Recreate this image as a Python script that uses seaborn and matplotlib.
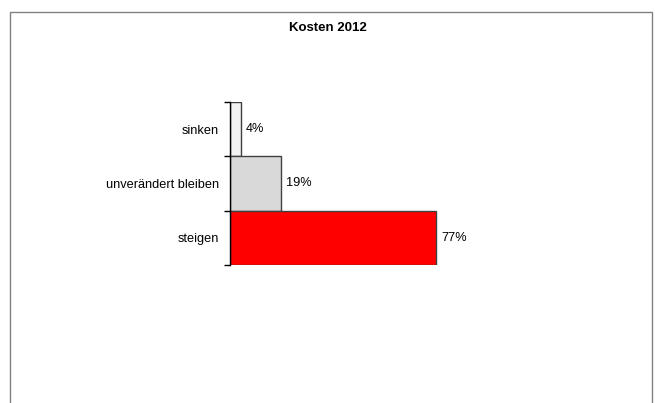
import numpy as np
import pandas as pd
import matplotlib
matplotlib.use("Agg")
import matplotlib.pyplot as plt
import seaborn as sns
from matplotlib.patches import Rectangle

# data
categories = ['sinken', 'unverändert bleiben', 'steigen']
values = [4, 19, 77]
labels = ['4%', '19%', '77%']
bar_colors = ['#f2f2f2', '#d9d9d9', '#ff0000']

df = pd.DataFrame({'kategorie': categories, 'anteil': values})

sns.set_style('white', {'text.color': 'black', 'ytick.color': 'black'})
plt.rcParams['font.family'] = ['Liberation Sans', 'DejaVu Sans']

fig = plt.figure(figsize=(6.55, 4.03), dpi=100)
ax = fig.add_axes([230 / 655, 1 - 265 / 403, 268 / 655, 163 / 403])

sns.barplot(data=df, x='anteil', y='kategorie', hue='kategorie', order=categories,
            palette=dict(zip(categories, bar_colors)), width=1.0, legend=False,
            saturation=1, edgecolor='#404040', linewidth=1.0, ax=ax)

ax.set_xlim(0, 100)
ax.set_ylim(2.5, -0.5)
ax.set_xlabel('')
ax.set_ylabel('')
ax.set_xticks([])

# category labels without ticks, tick marks at the bar boundaries
ax.set_yticks(range(len(categories)))
ax.set_yticklabels(categories, fontsize=9.2, color='black')
ax.tick_params(axis='y', which='major', length=0, pad=8)
ax.set_yticks(np.arange(len(categories) + 1) - 0.5, minor=True)
ax.tick_params(axis='y', which='minor', length=4, width=1, color='black', left=True)

for s in ['top', 'right', 'bottom']:
    ax.spines[s].set_visible(False)
ax.spines['left'].set_color('black')
ax.spines['left'].set_linewidth(1)

for i, (v, t) in enumerate(zip(values, labels)):
    ax.text(v + 1.8, i, t, va='center', ha='left', fontsize=9.2, color='black')

fig.text(0.5, 1 - 28 / 403, 'Kosten 2012', ha='center', va='center',
         fontsize=9.5, fontweight='bold', color='black')

# outer chart frame (bottom edge lies outside the image)
fig.patches.append(Rectangle((10 / 655, -0.05), 642 / 655, 1.05 - 12 / 403,
                             transform=fig.transFigure, fill=False,
                             edgecolor='#808080', linewidth=1))

fig.savefig('out.png', dpi=100)
